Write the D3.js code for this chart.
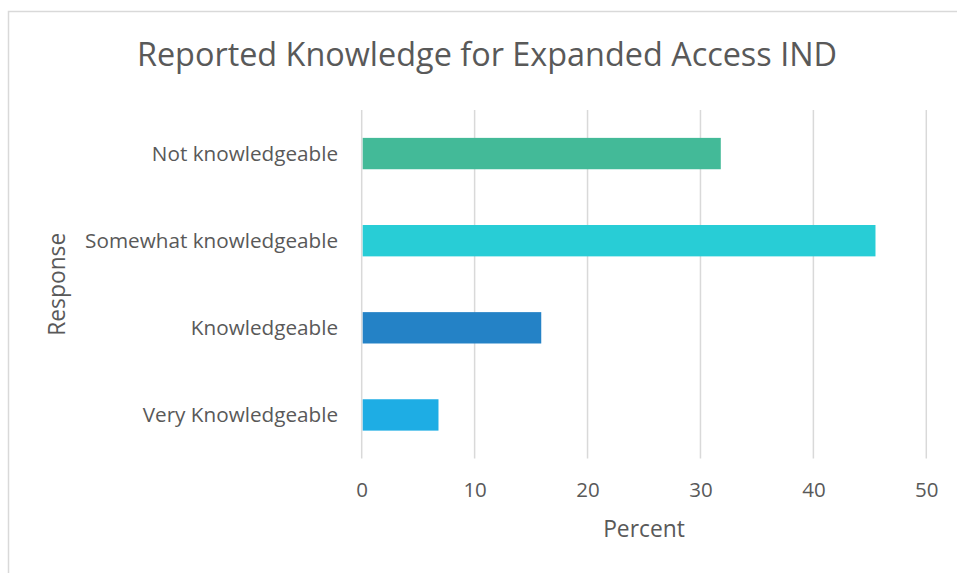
<!DOCTYPE html>
<html>
<head>
<meta charset="utf-8">
<script src="https://cdn.jsdelivr.net/npm/d3@7"></script>
<style>
  body { margin: 0; background: #fff; }
  text { font-family: "Open Sans", "Noto Sans", sans-serif; fill: #595959; }
</style>
</head>
<body>
<div id="app"></div>
<script>
const categories = ["Not knowledgeable", "Somewhat knowledgeable", "Knowledgeable", "Very Knowledgeable"];
const values = [31.8, 45.5, 15.9, 6.8];
const barColors = ["#43BA98", "#28CDD6", "#2482C6", "#1EADE4"];
const xTicks = [0, 10, 20, 30, 40, 50];

const w = 957,
      h = 573;
const plot = { left: 361.7, right: 926.3, top: 110, bottom: 458.5 };

const svg = d3.select("#app")
    .append("svg")
    .attr("width", w)
    .attr("height", h);

// chart frame (clipped on the right and bottom like the original)
svg.append("rect")
    .attr("x", 8.5)
    .attr("y", 11.5)
    .attr("width", w + 20)
    .attr("height", h + 20)
    .attr("fill", "none")
    .attr("stroke", "#d9d9d9")
    .attr("stroke-width", 1.5);

const xScale = d3.scaleLinear()
    .domain([0, 50])
    .range([plot.left, plot.right]);

const yScale = d3.scaleBand()
    .domain(categories)
    .range([plot.top, plot.bottom])
    .paddingInner(0.64)
    .paddingOuter(0.32);

// gridlines
svg.append("g")
    .selectAll("line")
    .data(xTicks)
    .enter()
    .append("line")
    .attr("x1", d => xScale(d))
    .attr("x2", d => xScale(d))
    .attr("y1", plot.top)
    .attr("y2", plot.bottom)
    .attr("stroke", "#d9d9d9")
    .attr("stroke-width", 1.5);

// bars
svg.append("g")
    .selectAll("rect")
    .data(values)
    .enter()
    .append("rect")
    .attr("x", xScale(0) + 1)
    .attr("y", (d, i) => yScale(categories[i]))
    .attr("width", d => xScale(d) - xScale(0) - 1)
    .attr("height", yScale.bandwidth())
    .attr("fill", (d, i) => barColors[i]);

// x axis labels
const xAxis = d3.axisBottom(xScale)
    .tickValues(xTicks)
    .tickSize(0)
    .tickPadding(0);

const gx = svg.append("g")
    .attr("id", "x-axis")
    .attr("transform", `translate(0, ${plot.bottom})`)
    .call(xAxis);
gx.select(".domain").remove();
gx.selectAll("text")
    .attr("dy", null)
    .attr("y", 38.5)
    .attr("font-size", "20.5px")
    .attr("fill", "#595959")
    .attr("font-family", "\"Open Sans\", sans-serif");

// y axis labels
const yAxis = d3.axisLeft(yScale)
    .tickSize(0)
    .tickPadding(0);

const gy = svg.append("g")
    .attr("id", "y-axis")
    .attr("transform", `translate(338, 0)`)
    .call(yAxis);
gy.select(".domain").remove();
gy.selectAll("text")
    .attr("dy", "0.35em")
    .attr("font-size", "20.7px")
    .attr("fill", "#595959")
    .attr("font-family", "\"Open Sans\", sans-serif");

// title
svg.append("text")
    .attr("text-anchor", "middle")
    .attr("x", 487)
    .attr("y", 66)
    .attr("font-size", "32.4px")
    .text("Reported Knowledge for Expanded Access IND");

svg.append("text")
    .attr("text-anchor", "middle")
    .attr("x", (plot.left + plot.right) / 2)
    .attr("y", 537)
    .attr("font-size", "22.8px")
    .text("Percent");

svg.append("text")
    .attr("text-anchor", "middle")
    .attr("transform", `translate(65, ${(plot.top + plot.bottom) / 2}) rotate(-90)`)
    .attr("font-size", "22.8px")
    .text("Response");
</script>
</body>
</html>
